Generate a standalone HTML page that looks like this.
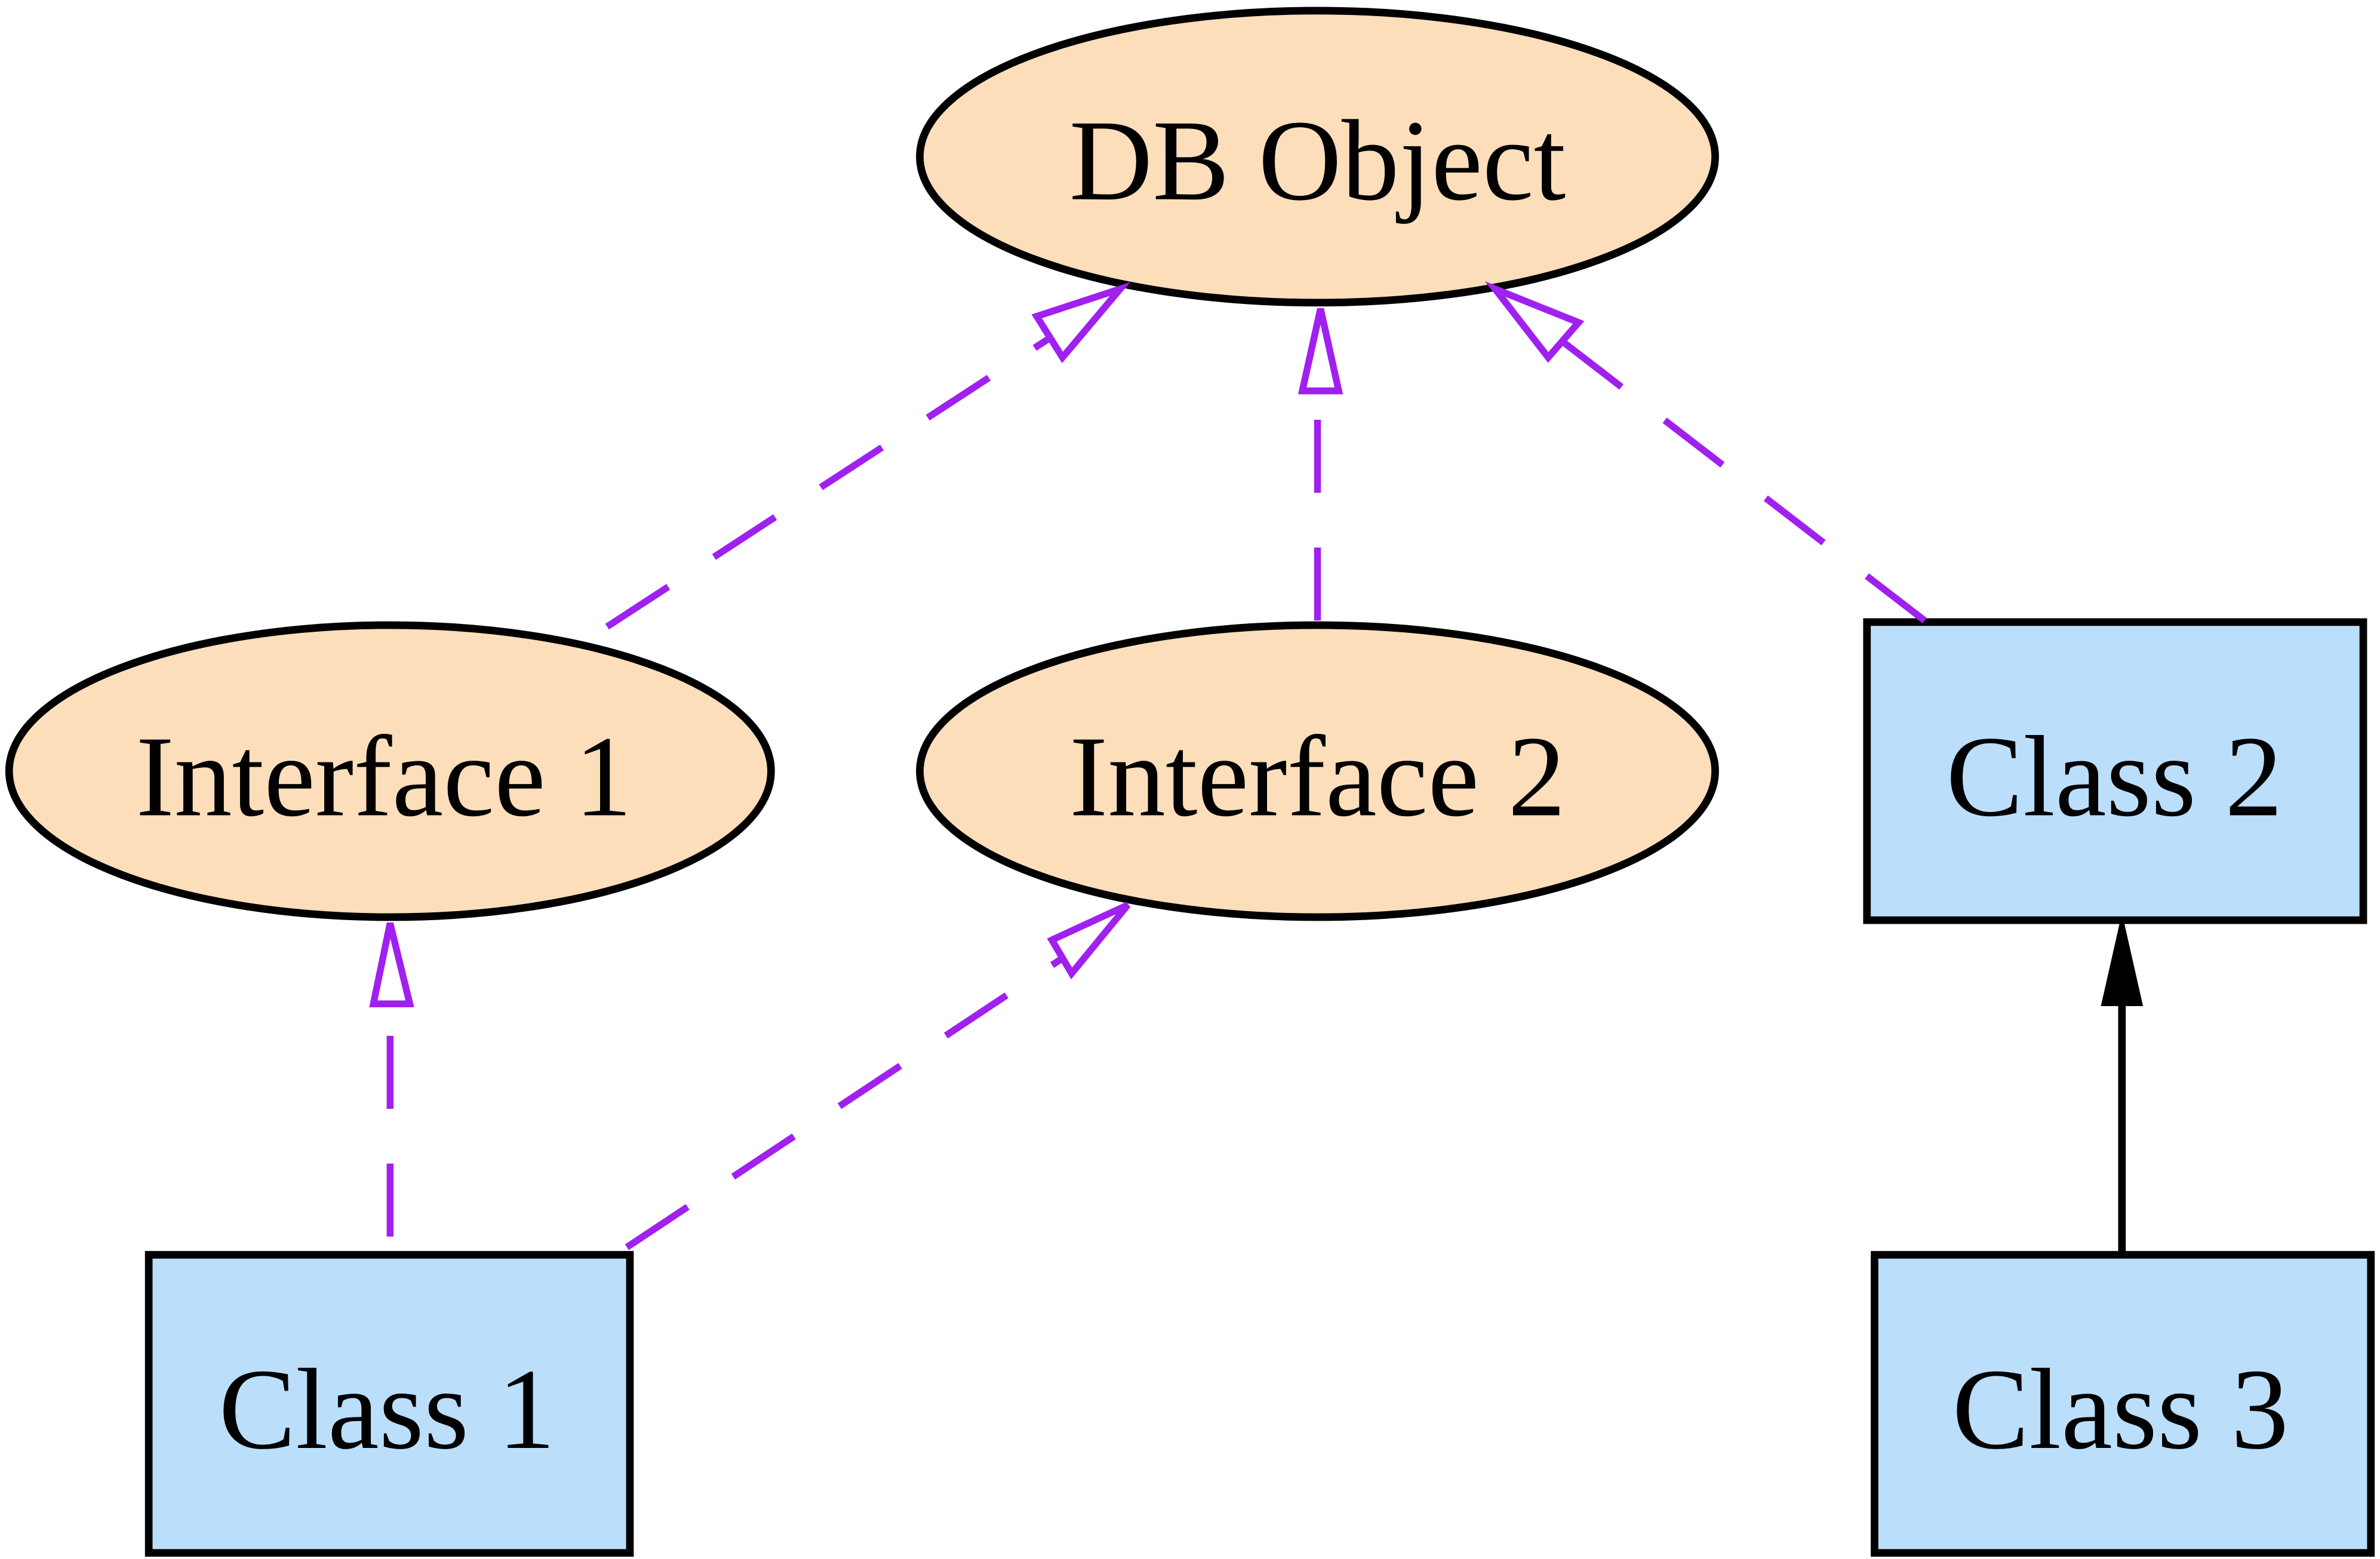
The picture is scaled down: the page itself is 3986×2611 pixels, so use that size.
<!DOCTYPE html>
<html><head><style>html,body{margin:0;padding:0;background:#fff}svg{display:block}</style></head>
<body>
<svg width="3986" height="2611" viewBox="0 0 1568 1025" preserveAspectRatio="none" xmlns="http://www.w3.org/2000/svg">
<g stroke="#000" stroke-width="5" fill="#fddebb">
<ellipse cx="868" cy="103" rx="262" ry="96"/>
<ellipse cx="257" cy="507" rx="251" ry="96"/>
<ellipse cx="868" cy="507" rx="262" ry="96"/>
</g>
<g stroke="#000" stroke-width="5" fill="#bbdefb">
<rect x="1230" y="409" width="327" height="196"/>
<rect x="98" y="825" width="317" height="196"/>
<rect x="1235" y="825" width="327" height="196"/>
</g>
<g stroke="#a020f0" stroke-width="4.5" fill="none" stroke-dasharray="48,36">
<line x1="400" y1="412" x2="692" y2="222"/>
<line x1="868" y1="408" x2="868" y2="258"/>
<line x1="1268" y1="408" x2="1030" y2="225"/>
<line x1="257" y1="813" x2="257" y2="660"/>
<line x1="413" y1="820" x2="700" y2="630"/>
</g>
<g stroke="#a020f0" stroke-width="4.5" fill="#fff" stroke-linejoin="miter">
<polygon points="738,190 683,208 700,235"/>
<polygon points="870,203 858,257 882,257"/>
<polygon points="985,190 1040,212 1020,235"/>
<polygon points="257,607 246,660 270,660"/>
<polygon points="743,595 693,618 706,640"/>
</g>
<line x1="1398" y1="824" x2="1398" y2="660" stroke="#000" stroke-width="5"/>
<polygon points="1398,607 1386,660 1410,660" fill="#000" stroke="#000" stroke-width="3"/>
<g font-family="'Liberation Serif',serif" font-size="76" text-anchor="middle" fill="#000">
<text x="868" y="131">DB Object</text>
<text x="253" y="536">Interface 1</text>
<text x="868" y="536">Interface 2</text>
<text x="1393" y="536">Class 2</text>
<text x="255" y="952">Class 1</text>
<text x="1397" y="952">Class 3</text>
</g>
</svg>
</body></html>
